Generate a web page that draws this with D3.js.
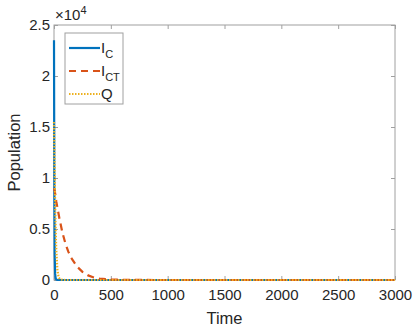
<!doctype html>
<html>
<head>
<meta charset="utf-8">
<style>
	body{ margin:0; background:#fff; }
	svg text{ font-family: "Liberation Sans", Arial, sans-serif; fill:#262626; }
</style>
</head>
<body>
<svg id="chart" width="418" height="332"></svg>
<script src="https://cdn.jsdelivr.net/npm/d3@7/dist/d3.min.js"></script>
<script>
// values (population)
var time = [0, 3, 6, 10, 15, 20, 30, 40, 50, 75, 100, 125, 150, 200, 250, 300, 350, 400, 500, 750, 1000, 1500, 2000, 2500, 3000];
var IC   = [23500, 9000, 2500, 600, 150, 40, 5, 0, 0, 0, 0, 0, 0, 0, 0, 0, 0, 0, 0, 0, 0, 0, 0, 0, 0];
var ICT  = [9000, 8900, 8750, 8500, 8100, 7700, 7100, 6500, 5900, 4600, 3600, 2800, 2200, 1350, 800, 450, 250, 130, 40, 5, 0, 0, 0, 0, 0];
var Q    = [15500, 13000, 10500, 7500, 4800, 3000, 1000, 300, 100, 10, 0, 0, 0, 0, 0, 0, 0, 0, 0, 0, 0, 0, 0, 0, 0];
var xTicks = [0, 500, 1000, 1500, 2000, 2500, 3000];
var yTicks = [0, 0.5, 1, 1.5, 2, 2.5];

var series = [
	{name: "C", values: IC, color: "#0072BD", dash: null},
	{name: "CT", values: ICT, color: "#D95319", dash: "7,5"},
	{name: "Q", values: Q, color: "#EDB120", dash: "1.5,1.5"}
];

var svg = d3.select("#chart");
var mLeft = 54, mRight = 395, mTop = 25, mBottom = 280;

var x = d3.scaleLinear().domain([0, 3000]).range([mLeft, mRight]);
var y = d3.scaleLinear().domain([0, 2.5]).range([mBottom, mTop]);

var axisColor = "#a0a0a0";

// ticks inward, box on
svg.append("g").attr("class", "ax").attr("transform", "translate(0," + mBottom + ")")
	.call(d3.axisBottom(x).tickValues(xTicks).tickSizeInner(-4).tickSizeOuter(0).tickPadding(9).tickFormat(d3.format("d")))
	.call(function(g){ g.select(".domain").remove(); });
svg.append("g").attr("class", "ax").attr("transform", "translate(" + mLeft + ",0)")
	.call(d3.axisLeft(y).tickValues(yTicks).tickSizeInner(-4).tickSizeOuter(0).tickPadding(4).tickFormat(d3.format("")))
	.call(function(g){ g.select(".domain").remove(); });
svg.append("g").attr("class", "ax").attr("transform", "translate(0," + mTop + ")")
	.call(d3.axisTop(x).tickValues(xTicks).tickSizeInner(-4).tickSizeOuter(0).tickFormat(""))
	.call(function(g){ g.select(".domain").remove(); });
svg.append("g").attr("class", "ax").attr("transform", "translate(" + mRight + ",0)")
	.call(d3.axisRight(y).tickValues(yTicks).tickSizeInner(-4).tickSizeOuter(0).tickFormat(""))
	.call(function(g){ g.select(".domain").remove(); });

svg.selectAll(".ax").attr("font-size", 15).attr("font-family", "'Liberation Sans', Arial, sans-serif");
svg.selectAll(".tick line").attr("stroke", axisColor);
svg.selectAll(".tick text").attr("fill", "#262626");

svg.append("rect").attr("x", mLeft).attr("y", mTop)
	.attr("width", mRight - mLeft).attr("height", mBottom - mTop)
	.attr("fill", "none").attr("stroke", axisColor).attr("stroke-width", 1);

var line = d3.line()
	.x(function(d, i){ return x(time[i]); })
	.y(function(d){ return y(d / 1e4); });

series.forEach(function(s){
	svg.append("path").datum(s.values)
		.attr("d", line)
		.attr("fill", "none")
		.attr("stroke", s.color)
		.attr("stroke-width", 2.2)
		.attr("stroke-dasharray", s.dash);
});

// exponent label
var ex = svg.append("text").attr("x", 55).attr("y", 20).attr("font-size", 15);
ex.append("tspan").text("\u00d710");
ex.append("tspan").attr("dy", -6).attr("font-size", 11).text("4");

// axis labels
svg.append("text").attr("x", (mLeft + mRight) / 2).attr("y", 324)
	.attr("text-anchor", "middle").attr("font-size", 16.5).text("Time");
svg.append("text").attr("transform", "translate(20," + ((mTop + mBottom) / 2) + ") rotate(-90)")
	.attr("text-anchor", "middle").attr("font-size", 16.5).text("Population");

// legend
var lg = svg.append("g");
lg.append("rect").attr("x", 65).attr("y", 33).attr("width", 58).attr("height", 71)
	.attr("fill", "#fff").attr("stroke", axisColor);
series.forEach(function(s, i){
	var ly = 48 + i * 23;
	lg.append("line").attr("x1", 69).attr("x2", 100).attr("y1", ly).attr("y2", ly)
		.attr("stroke", s.color).attr("stroke-width", 2.2).attr("stroke-dasharray", s.dash);
	var t = lg.append("text").attr("x", 101).attr("y", ly + 5).attr("font-size", 15);
	if(s.name === "Q"){
		t.text("Q");
	}else{
		t.text("I");
		t.append("tspan").attr("dy", 5).attr("font-size", 11).text(s.name);
	}
});
</script>
</body>
</html>
